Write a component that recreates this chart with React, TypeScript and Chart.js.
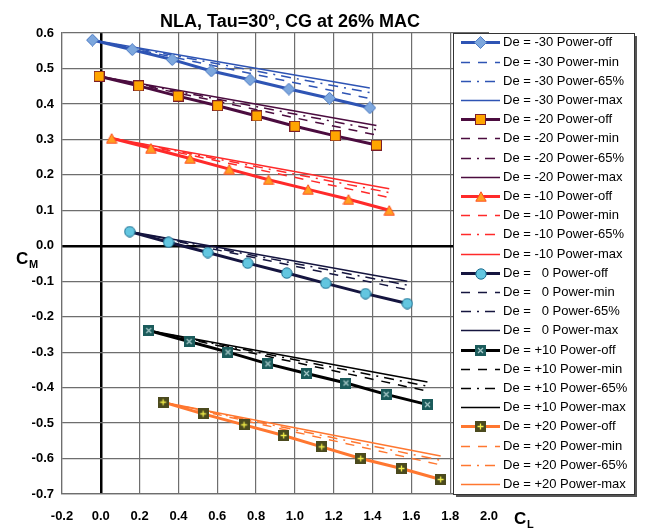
import React, { useEffect, useRef } from "react";
import { Chart, registerables } from "chart.js";

Chart.register(...registerables);

const X_TICKS = [-0.2, 0.0, 0.2, 0.4, 0.6, 0.8, 1.0, 1.2, 1.4, 1.6, 1.8, 2.0];
const Y_TICKS = [-0.7, -0.6, -0.5, -0.4, -0.3, -0.2, -0.1, 0.0, 0.1, 0.2, 0.3, 0.4, 0.5, 0.6];

const DE_LABELS = ["-30", "-20", "-10", "  0", "+10", "+20"];
const POWER_LABELS = ["Power-off", "Power-min", "Power-65%", "Power-max"];

// De = -30
const CL_M30 = [-0.043, 0.162, 0.368, 0.569, 0.769, 0.969, 1.178, 1.386];
const OFF_M30 = [0.58, 0.553, 0.525, 0.493, 0.468, 0.442, 0.416, 0.389];
const MIN_M30 = [0.58, 0.415];
const P65_M30 = [0.58, 0.432];
const MAX_M30 = [0.58, 0.445];

// De = -20
const CL_M20 = [-0.009, 0.195, 0.398, 0.602, 0.804, 1.0, 1.208, 1.42];
const OFF_M20 = [0.478, 0.451, 0.422, 0.395, 0.366, 0.337, 0.31, 0.284];
const MIN_M20 = [0.478, 0.312];
const P65_M20 = [0.478, 0.327];
const MAX_M20 = [0.478, 0.339];

// De = -10
const CL_M10 = [0.056, 0.258, 0.46, 0.662, 0.864, 1.068, 1.276, 1.486];
const OFF_M10 = [0.303, 0.275, 0.246, 0.216, 0.186, 0.159, 0.131, 0.1];
const MIN_M10 = [0.303, 0.136];
const P65_M10 = [0.303, 0.15];
const MAX_M10 = [0.303, 0.161];

// De = 0
const CL_0 = [0.149, 0.349, 0.551, 0.757, 0.958, 1.159, 1.364, 1.579];
const OFF_0 = [0.04, 0.01, -0.019, -0.049, -0.077, -0.106, -0.135, -0.163];
const MIN_0 = [0.04, -0.124];
const P65_0 = [0.04, -0.111];
const MAX_0 = [0.04, -0.1];

// De = +10
const CL_P10 = [0.247, 0.455, 0.655, 0.861, 1.06, 1.263, 1.47, 1.683];
const OFF_P10 = [-0.239, -0.27, -0.3, -0.333, -0.36, -0.387, -0.419, -0.448];
const MIN_P10 = [-0.239, -0.41];
const P65_P10 = [-0.239, -0.396];
const MAX_P10 = [-0.239, -0.384];

// De = +20
const CL_P20 = [0.321, 0.527, 0.738, 0.942, 1.138, 1.339, 1.549, 1.751];
const OFF_P20 = [-0.441, -0.474, -0.505, -0.535, -0.567, -0.6, -0.628, -0.659];
const MIN_P20 = [-0.441, -0.618];
const P65_P20 = [-0.441, -0.605];
const MAX_P20 = [-0.441, -0.593];

const LINE_COLORS = ["#2E54B4", "#4B0C3F", "#FF2A2A", "#15153F", "#000000", "#FF7730"];

const FONT = '"Liberation Sans", Arial, Helvetica, sans-serif';

function mk(w: number, h: number, draw: (c: CanvasRenderingContext2D) => void) {
  const cv = document.createElement("canvas");
  cv.width = w;
  cv.height = h;
  const c = cv.getContext("2d")!;
  draw(c);
  return cv;
}

function makeMarkers() {
  const diamond = mk(13, 13, (c) => {
    c.beginPath();
    c.moveTo(6.5, 0.5);
    c.lineTo(12.5, 6.5);
    c.lineTo(6.5, 12.5);
    c.lineTo(0.5, 6.5);
    c.closePath();
    c.fillStyle = "#7DA7DD";
    c.fill();
    c.strokeStyle = "#4F7CC4";
    c.lineWidth = 1;
    c.stroke();
  });
  const square = mk(11, 11, (c) => {
    c.fillStyle = "#FFA500";
    c.fillRect(1, 1, 9, 9);
    c.strokeStyle = "#7B1E2A";
    c.lineWidth = 1;
    c.strokeRect(0.5, 0.5, 10, 10);
  });
  const triangle = mk(12, 11, (c) => {
    c.beginPath();
    c.moveTo(6, 0.8);
    c.lineTo(11.2, 10.2);
    c.lineTo(0.8, 10.2);
    c.closePath();
    c.fillStyle = "#FFA020";
    c.fill();
    c.strokeStyle = "#FF5020";
    c.lineWidth = 1;
    c.stroke();
  });
  const circle = mk(12, 12, (c) => {
    c.beginPath();
    c.arc(6, 6, 5.2, 0, Math.PI * 2);
    c.fillStyle = "#63C6E0";
    c.fill();
    c.strokeStyle = "#1E6E90";
    c.lineWidth = 1;
    c.stroke();
  });
  const squareX = mk(11, 11, (c) => {
    c.fillStyle = "#1B5B5B";
    c.fillRect(0, 0, 11, 11);
    c.strokeStyle = "#A8CACA";
    c.lineWidth = 1.2;
    c.beginPath();
    c.moveTo(3, 3);
    c.lineTo(8, 8);
    c.moveTo(8, 3);
    c.lineTo(3, 8);
    c.stroke();
  });
  const squarePlus = mk(11, 11, (c) => {
    c.fillStyle = "#4B4A1E";
    c.fillRect(0, 0, 11, 11);
    c.strokeStyle = "#F2EE48";
    c.lineWidth = 1.3;
    c.beginPath();
    c.moveTo(5.5, 2.5);
    c.lineTo(5.5, 8.5);
    c.moveTo(2.5, 5.5);
    c.lineTo(8.5, 5.5);
    c.stroke();
  });
  return [diamond, square, triangle, circle, squareX, squarePlus];
}

function fmt(v: number) {
  if (Math.abs(v) < 1e-9) return "0.0";
  return v.toFixed(1);
}

const isZero = (c: any) => c.tick && Math.abs(c.tick.value) < 1e-9;

export default function App() {
  const ref = useRef<HTMLCanvasElement | null>(null);

  useEffect(() => {
    if (!ref.current) return;
    const markers = makeMarkers();
    const groups = [
      { cl: CL_M30, off: OFF_M30, on: [MIN_M30, P65_M30, MAX_M30] },
      { cl: CL_M20, off: OFF_M20, on: [MIN_M20, P65_M20, MAX_M20] },
      { cl: CL_M10, off: OFF_M10, on: [MIN_M10, P65_M10, MAX_M10] },
      { cl: CL_0, off: OFF_0, on: [MIN_0, P65_0, MAX_0] },
      { cl: CL_P10, off: OFF_P10, on: [MIN_P10, P65_P10, MAX_P10] },
      { cl: CL_P20, off: OFF_P20, on: [MIN_P20, P65_P20, MAX_P20] },
    ];
    const dashes = [[9, 8], [10, 6, 2, 6], []];
    const datasets: any[] = [];
    groups.forEach((g, gi) => {
      const color = LINE_COLORS[gi];
      datasets.push({
        label: `De = ${DE_LABELS[gi]} ${POWER_LABELS[0]}`,
        data: g.cl.map((x, i) => ({ x, y: g.off[i] })),
        borderColor: color,
        backgroundColor: color,
        borderWidth: 3,
        showLine: true,
        pointStyle: markers[gi],
        pointRadius: 5,
        pointHoverRadius: 5,
        markerImg: markers[gi],
      });
      g.on.forEach((v, k) => {
        const last = g.cl.length - 1;
        datasets.push({
          label: `De = ${DE_LABELS[gi]} ${POWER_LABELS[k + 1]}`,
          data: [
            { x: g.cl[0], y: v[0] },
            { x: g.cl[last], y: v[1] },
          ],
          borderColor: color,
          backgroundColor: color,
          borderWidth: 1.5,
          borderDash: dashes[k],
          showLine: true,
          pointRadius: 0,
          pointHoverRadius: 0,
        });
      });
    });

    const overlay = {
      id: "overlay",
      afterDraw(chart: any) {
        const ctx: CanvasRenderingContext2D = chart.ctx;
        ctx.save();
        // Title
        ctx.fillStyle = "#000";
        ctx.textBaseline = "alphabetic";
        ctx.textAlign = "left";
        const big = `bold 18px ${FONT}`;
        const sup = `bold 11px ${FONT}`;
        const p1 = "NLA, Tau=30";
        const p2 = "o";
        const p3 = ", CG at 26% MAC";
        ctx.font = big;
        const w1 = ctx.measureText(p1).width;
        const w3 = ctx.measureText(p3).width;
        ctx.font = sup;
        const w2 = ctx.measureText(p2).width;
        let tx = 290 - (w1 + w2 + w3) / 2;
        ctx.font = big;
        ctx.fillText(p1, tx, 27);
        tx += w1;
        ctx.font = sup;
        ctx.fillText(p2, tx, 20);
        tx += w2;
        ctx.font = big;
        ctx.fillText(p3, tx, 27);

        // Axis labels
        ctx.font = `bold 17px ${FONT}`;
        ctx.fillText("C", 16, 264);
        ctx.font = `bold 11px ${FONT}`;
        ctx.fillText("M", 29, 268);
        ctx.font = `bold 17px ${FONT}`;
        ctx.fillText("C", 514, 524);
        ctx.font = `bold 11px ${FONT}`;
        ctx.fillText("L", 527, 528);

        // Legend
        const L = 453, T = 33, R = 634, B = 494;
        ctx.fillStyle = "#555";
        ctx.fillRect(L + 3, T + 3, R - L, B - T);
        ctx.fillStyle = "#fff";
        ctx.fillRect(L, T, R - L, B - T);
        ctx.strokeStyle = "#333";
        ctx.lineWidth = 1;
        ctx.setLineDash([]);
        ctx.strokeRect(L + 0.5, T + 0.5, R - L, B - T);
        ctx.font = `13px ${FONT}`;
        ctx.textBaseline = "middle";
        chart.data.datasets.forEach((ds: any, i: number) => {
          const y = Math.round(42.3 + i * 19.2) + 0.5;
          ctx.strokeStyle = ds.borderColor;
          ctx.lineWidth = ds.borderWidth;
          ctx.setLineDash(ds.borderDash || []);
          ctx.beginPath();
          ctx.moveTo(461, y);
          ctx.lineTo(500, y);
          ctx.stroke();
          ctx.setLineDash([]);
          if (ds.markerImg) {
            const m = ds.markerImg;
            ctx.drawImage(m, Math.round(480.5 - m.width / 2), Math.round(y - m.height / 2));
          }
          ctx.fillStyle = "#000";
          ctx.fillText(ds.label, 503, y);
        });
        ctx.restore();
      },
    };

    const tickFont = { family: FONT, size: 13, weight: "bold" as const };
    const chart = new Chart(ref.current, {
      type: "scatter",
      data: { datasets },
      options: {
        animation: false,
        responsive: false,
        maintainAspectRatio: false,
        devicePixelRatio: 1,
        layout: { padding: { left: 0, right: 156, top: 33, bottom: 0 } },
        plugins: { legend: { display: false }, title: { display: false }, tooltip: { enabled: false } },
        scales: {
          x: {
            type: "linear",
            min: X_TICKS[0],
            max: X_TICKS[X_TICKS.length - 1],
            afterBuildTicks: (s: any) => {
              s.ticks = X_TICKS.map((v) => ({ value: v }));
            },
            afterFit: (s: any) => {
              s.height = 34;
            },
            ticks: {
              callback: (v: any) => fmt(Number(v)),
              font: tickFont,
              color: "#000",
              padding: 15,
              autoSkip: false,
              maxRotation: 0,
            },
            grid: {
              drawTicks: false,
              color: (c: any) => (isZero(c) ? "#000" : "#6e6e6e"),
              lineWidth: (c: any) => (isZero(c) ? 2.5 : 1.2),
            },
            border: { display: true, color: "#6e6e6e", width: 1.2 },
          },
          y: {
            type: "linear",
            min: Y_TICKS[0],
            max: Y_TICKS[Y_TICKS.length - 1],
            afterBuildTicks: (s: any) => {
              s.ticks = Y_TICKS.map((v) => ({ value: v }));
            },
            afterFit: (s: any) => {
              s.width = 62;
            },
            ticks: {
              callback: (v: any) => fmt(Number(v)),
              font: tickFont,
              color: "#000",
              padding: 8,
              autoSkip: false,
            },
            grid: {
              drawTicks: false,
              color: (c: any) => (isZero(c) ? "#000" : "#6e6e6e"),
              lineWidth: (c: any) => (isZero(c) ? 2.5 : 1.2),
            },
            border: { display: true, color: "#6e6e6e", width: 1.2 },
          },
        },
      },
      plugins: [overlay],
    } as any);
    return () => chart.destroy();
  }, []);

  return (
    <div style={{ position: "fixed", left: 0, top: 0, width: 645, height: 528, background: "#fff" }}>
      <canvas ref={ref} width={645} height={528} style={{ width: 645, height: 528, display: "block" }} />
    </div>
  );
}
